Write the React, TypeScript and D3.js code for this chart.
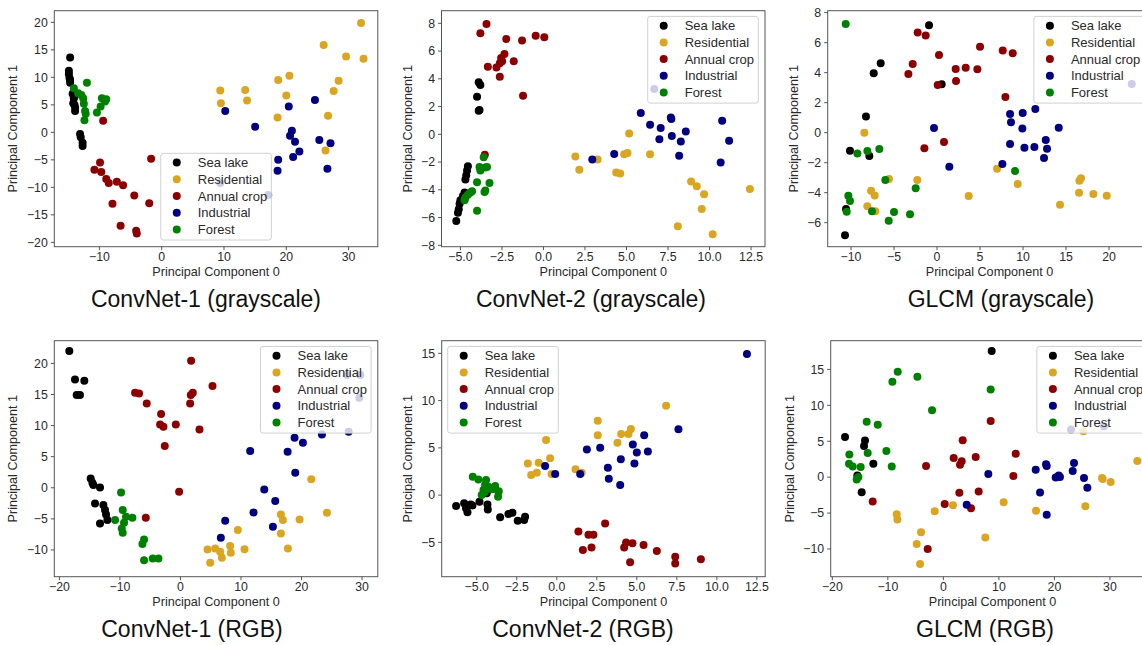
import React from 'react'
import * as d3 from 'd3'

type Pt = [number, number]

const classNames = ['Sea lake', 'Residential', 'Annual crop', 'Industrial', 'Forest']
const classColors = ['black', 'goldenrod', 'darkred', 'navy', 'green']

// ConvNet-1 (grayscale)
const c1gSea: Pt[] = [[-14.7,13.6],[-14.9,11.2],[-14.9,10.6],[-14.8,9.9],[-14.7,9.5],[-14.7,9.0],[-14.3,7.0],[-14.1,6.4],[-14.1,6.2],[-14.2,5.3],[-14.0,5.0],[-13.9,4.5],[-13.9,3.9],[-13.1,-0.3],[-13.0,-0.9],[-12.7,-1.9],[-12.7,-2.5]]
const c1gRes: Pt[] = [[32.0,19.9],[26.0,15.9],[29.6,13.8],[32.4,13.4],[20.5,10.3],[18.7,9.5],[28.4,9.4],[27.6,7.5],[20.0,6.7],[9.4,7.6],[13.4,7.7],[9.5,5.3],[13.7,5.8],[18.6,2.7],[26.7,3.0],[26.3,-3.3]]
const c1gCrop: Pt[] = [[-9.4,2.1],[-1.7,-4.8],[-9.9,-5.5],[-10.8,-6.8],[-9.7,-7.2],[-8.9,-8.5],[-8.5,-9.2],[-7.2,-9.0],[-6.2,-9.6],[-7.9,-13.0],[-4.4,-11.5],[-2.0,-12.9],[-6.6,-17.0],[-4.1,-17.9],[-4.0,-18.4]]
const c1gInd: Pt[] = [[10.2,3.9],[15.0,1.0],[24.6,5.9],[20.4,4.7],[20.9,0.3],[20.6,-0.6],[21.4,-1.7],[22.1,-3.5],[21.1,-4.5],[18.7,-5.0],[18.6,-7.0],[25.3,-1.4],[27.1,-2.0],[26.6,-6.6],[9.4,-9.2],[17.1,-11.4]]
const c1gFor: Pt[] = [[-14.1,8.0],[-13.4,7.1],[-12.9,6.8],[-12.6,6.2],[-12.0,9.0],[-12.5,5.2],[-12.3,3.9],[-12.2,3.4],[-12.4,2.2],[-10.4,3.6],[-9.8,4.7],[-9.6,6.2],[-8.9,6.0],[-9.1,5.6]]

// ConvNet-2 (grayscale)
const c2gSea: Pt[] = [[-3.9,3.75],[-3.8,3.55],[-4.0,2.7],[-3.9,1.7],[-3.85,1.75],[-4.55,-2.3],[-4.6,-2.6],[-4.65,-2.95],[-4.7,-3.25],[-4.75,-4.2],[-4.85,-4.45],[-5.0,-4.75],[-5.05,-5.0],[-5.1,-5.4],[-5.15,-5.65],[-5.25,-6.25]]
const c2gRes: Pt[] = [[1.92,-1.6],[2.16,-2.56],[3.26,-1.82],[4.38,-2.75],[4.62,-2.83],[4.86,-1.43],[5.06,-1.34],[5.16,0.06],[6.42,-1.43],[8.89,-3.4],[9.23,-3.74],[9.67,-4.32],[9.53,-5.38],[12.43,-3.95],[8.09,-6.63],[10.19,-7.2]]
const c2gCrop: Pt[] = [[-3.43,7.95],[-3.8,7.28],[-2.24,6.87],[-1.29,6.77],[-0.47,7.11],[0.05,6.99],[-2.35,5.79],[-2.55,5.5],[-2.49,5.26],[-2.63,5.12],[-1.79,5.26],[-3.35,4.87],[-2.83,4.82],[-2.63,4.15],[-1.23,2.78],[-3.53,-1.48]]
const c2gInd: Pt[] = [[2.94,-1.82],[4.26,-1.41],[5.86,1.53],[6.42,0.69],[7.06,0.45],[7.67,1.22],[7.7,1.1],[6.98,-0.35],[7.73,-0.13],[8.27,-0.52],[8.17,-1.55],[8.57,0.2],[10.76,0.97],[11.18,-0.47],[10.67,-2.03],[6.67,3.26]]
const c2gFor: Pt[] = [[-3.6,-1.65],[-3.85,-2.35],[-3.8,-2.6],[-3.4,-2.35],[-3.5,-2.4],[-4.0,-3.45],[-3.25,-3.5],[-3.5,-4.05],[-3.55,-4.15],[-4.3,-4.1],[-4.4,-4.2],[-4.55,-4.35],[-4.7,-4.55],[-4.75,-4.75],[-4.0,-5.5]]

// GLCM (grayscale)
const glgSea: Pt[] = [[-0.93,7.16],[-6.55,4.62],[-7.36,3.96],[0.54,3.22],[-8.26,1.07],[-10.12,-1.2],[-7.87,-1.56],[-10.58,-5.09],[-10.7,-6.84]]
const glgRes: Pt[] = [[-8.45,0.0],[-7.67,-3.87],[-7.25,-4.18],[-8.1,-4.91],[-7.17,-5.24],[-5.58,-3.09],[-2.29,-3.16],[3.68,-4.22],[6.98,-2.4],[9.38,-3.42],[14.3,-4.8],[16.51,-4.0],[16.74,-3.04],[16.55,-3.2],[18.18,-4.09],[19.73,-4.2]]
const glgCrop: Pt[] = [[-2.25,6.67],[-1.32,6.47],[5.0,5.73],[0.23,5.18],[-2.83,4.58],[-3.33,3.91],[2.17,4.24],[3.33,4.33],[4.69,4.22],[7.64,5.47],[8.8,5.29],[0.08,3.18],[2.21,3.44],[7.95,2.38],[0.81,-0.62],[-1.47,-1.04]]
const glgInd: Pt[] = [[-0.35,0.31],[1.43,-2.27],[7.6,-2.09],[8.49,1.24],[8.6,0.69],[9.96,1.31],[9.92,0.27],[11.43,1.58],[14.15,0.33],[8.49,-0.76],[10.16,-1.0],[11.32,-0.96],[12.64,-0.49],[12.79,-1.07],[12.44,-1.69],[22.64,3.24]]
const glgFor: Pt[] = [[-10.62,7.24],[-9.26,-1.38],[-8.1,-1.22],[-6.71,-1.09],[-6.01,-3.16],[-2.48,-3.71],[-10.31,-4.2],[-10.12,-4.56],[-10.5,-5.27],[-7.56,-5.24],[-5.0,-5.29],[-5.62,-5.87],[-3.14,-5.44],[9.07,-2.56]]

// ConvNet-1 (RGB)
const c1rSea: Pt[] = [[-18.36,21.98],[-17.42,17.43],[-15.88,17.21],[-17.14,14.91],[-16.6,14.91],[-14.83,1.5],[-14.55,0.8],[-14.39,0.43],[-13.29,0.05],[-14.11,-2.52],[-12.73,-2.79],[-12.46,-3.59],[-12.29,-4.29],[-12.07,-5.2],[-13.29,-5.74]]
const c1rRes: Pt[] = [[21.61,1.39],[24.2,-4.02],[16.59,-4.29],[16.92,-5.2],[19.68,-5.09],[16.59,-7.35],[17.75,-9.76],[9.48,-6.81],[4.47,-9.92],[5.73,-9.76],[6.56,-10.29],[6.84,-11.26],[8.21,-9.38],[8.32,-10.46],[10.58,-9.87],[4.91,-12.06]]
const c1rCrop: Pt[] = [[1.76,20.43],[5.29,16.35],[-7.5,15.28],[-6.84,15.17],[2.04,15.28],[1.71,14.91],[-5.57,13.57],[1.6,13.57],[-3.2,11.85],[-3.36,10.19],[-2.81,9.81],[-0.77,10.19],[3.14,9.38],[-2.59,6.7],[-0.22,-0.64],[-5.73,-4.83]]
const c1rInd: Pt[] = [[11.52,5.9],[17.7,5.79],[18.85,8.04],[20.23,7.24],[23.37,8.58],[18.96,2.41],[13.84,-0.27],[15.66,-2.14],[12.07,-3.97],[7.39,-5.31],[6.67,-8.04],[15.27,-6.27],[27.51,18.12],[29.71,18.12],[29.55,14.48],[27.78,9.01]]
const c1rFor: Pt[] = [[-9.81,-0.75],[-10.8,-5.2],[-9.54,-3.59],[-8.99,-4.66],[-7.94,-4.83],[-9.32,-5.63],[-9.7,-6.54],[-9.54,-7.24],[-6.01,-8.31],[-6.28,-9.06],[-6.01,-11.64],[-4.58,-11.37],[-3.64,-11.37]]

// ConvNet-2 (RGB)
const c2rSea: Pt[] = [[-6.29,-1.16],[-5.79,-0.87],[-5.67,-1.4],[-5.58,-1.82],[-5.38,-0.98],[-5.27,-1.09],[-4.83,-0.7],[-4.33,-0.98],[-4.31,-1.51],[-4.38,0.19],[-3.54,-2.35],[-3.02,-2.0],[-2.77,-1.86],[-2.44,-2.7],[-2.04,-2.63],[-1.98,-2.28]]
const c2rRes: Pt[] = [[-1.81,3.36],[-1.6,2.13],[-1.25,2.37],[-1.13,3.43],[-0.67,5.83],[-0.42,3.9],[-0.33,2.23],[1.17,2.73],[1.56,2.37],[2.56,7.88],[2.56,6.33],[3.79,5.55],[4.02,6.47],[4.48,6.47],[4.63,7.0],[6.83,9.47]]
const c2rCrop: Pt[] = [[-3.65,0.36],[1.35,-3.86],[1.98,-4.2],[2.29,-4.2],[3.02,-2.99],[1.63,-5.81],[2.17,-5.53],[4.33,-5.0],[4.21,-5.53],[4.73,-5.1],[5.42,-5.27],[4.58,-7.11],[6.25,-5.92],[7.4,-6.52],[7.4,-7.23],[9.0,-6.79]]
const c2rInd: Pt[] = [[-0.73,3.09],[-0.1,2.23],[1.46,2.23],[1.88,4.84],[2.71,5.01],[3.19,2.9],[3.25,1.73],[4.0,3.81],[3.96,1.06],[4.75,5.37],[5.0,4.52],[4.85,3.36],[5.46,6.33],[5.69,4.63],[7.6,6.96],[11.88,14.94]]
const c2rFor: Pt[] = [[-5.25,1.95],[-4.9,1.66],[-4.42,1.59],[-4.48,1.06],[-4.27,0.89],[-3.85,0.96],[-4.58,0.54],[-4.69,0.01],[-3.63,0.4],[-3.67,-0.17],[-4.06,0.61],[-4.5,0.3]]

// GLCM (RGB)
const glrSea: Pt[] = [[8.7,17.56],[-17.71,5.6],[-14.11,5.12],[-14.29,4.34],[-12.61,1.87],[-15.49,0.24],[-14.71,-2.09]]
const glrRes: Pt[] = [[-8.4,-5.18],[-8.28,-5.88],[-4.02,-7.67],[-4.8,-9.32],[-4.2,-12.1],[-1.56,-4.74],[1.74,-3.9],[7.56,-8.39],[10.86,-3.49],[16.69,-4.69],[25.57,-4.04],[28.69,-0.27],[30.13,-0.69],[28.57,-0.13],[34.93,2.24],[25.21,6.39]]
const glrCrop: Pt[] = [[8.52,7.82],[3.48,5.13],[1.86,2.66],[3.3,2.2],[3.0,1.74],[5.82,2.8],[13.03,3.27],[-3.12,1.55],[12.61,0.15],[2.88,-2.18],[6.36,-1.99],[0.24,-3.73],[4.98,-4.34],[-2.82,-9.99],[-12.73,-3.39]]
const glrInd: Pt[] = [[8.1,0.43],[4.2,-3.83],[16.63,1.03],[18.49,1.78],[18.61,1.54],[17.41,-2.14],[18.61,-5.25],[20.23,-0.04],[20.77,0.24],[21.0,0.01],[23.29,0.85],[23.53,1.96],[25.33,-0.13],[25.93,-1.48],[22.99,6.62],[28.93,7.08]]
const glrFor: Pt[] = [[-8.22,14.68],[-9.18,13.28],[-4.68,13.98],[8.52,12.2],[-2.04,9.3],[-13.81,7.73],[-11.82,7.31],[-10.26,3.64],[-13.63,3.36],[-16.93,3.17],[-16.99,1.87],[-16.33,1.5],[-14.89,1.41],[-9.3,1.5],[-15.31,0.01],[-15.61,-0.31]]

const ticksAB = [-10, 0, 10, 20, 30]
const ticksFiveTo20 = [-20, -15, -10, -5, 0, 5, 10, 15, 20]
const ticksHalf = [-5, -2.5, 0, 2.5, 5, 7.5, 10, 12.5]
const ticksEvenTo8 = [-8, -6, -4, -2, 0, 2, 4, 6, 8]
const ticksGlcmX = [-10, -5, 0, 5, 10, 15, 20]
const ticksGlcmY = [-6, -4, -2, 0, 2, 4, 6, 8]
const ticksWide = [-20, -10, 0, 10, 20, 30]
const ticksRgb1Y = [-10, -5, 0, 5, 10, 15, 20]
const ticksRgb2Y = [-5, 0, 5, 10, 15]
const ticksRgb3Y = [-10, -5, 0, 5, 10, 15]

const panels = [
  { title: 'ConvNet-1 (grayscale)', series: [c1gSea, c1gRes, c1gCrop, c1gInd, c1gFor], left: 54.3, top: 10.7, titleX: 206, xDom: [-17.24, 34.69], yDom: [-20.79, 22.12], xTicks: ticksAB, yTicks: ticksFiveTo20, xFmt: 'd', yLabGap: 37, legend: 'lc' },
  { title: 'ConvNet-2 (grayscale)', series: [c2gSea, c2gRes, c2gCrop, c2gInd, c2gFor], left: 441.5, top: 10.7, titleX: 591, xDom: [-6.14, 13.34], yDom: [-8.1, 8.91], xTicks: ticksHalf, yTicks: ticksEvenTo8, xFmt: '.1f', yLabGap: 30, legend: 'ur' },
  { title: 'GLCM (grayscale)', series: [glgSea, glgRes, glgCrop, glgInd, glgFor], left: 827.7, top: 10.7, titleX: 1001, xDom: [-12.71, 24.9], yDom: [-7.6, 8.13], xTicks: ticksGlcmX, yTicks: ticksGlcmY, xFmt: 'd', yLabGap: 30, legend: 'ur' },
  { title: 'ConvNet-1 (RGB)', series: [c1rSea, c1rRes, c1rCrop, c1rInd, c1rFor], left: 54.3, top: 340.7, titleX: 192, xDom: [-20.84, 32.6], yDom: [-14.3, 23.65], xTicks: ticksWide, yTicks: ticksRgb1Y, xFmt: 'd', yLabGap: 37, legend: 'ur' },
  { title: 'ConvNet-2 (RGB)', series: [c2rSea, c2rRes, c2rCrop, c2rInd, c2rFor], left: 441.7, top: 340.7, titleX: 583, xDom: [-7.19, 13.02], yDom: [-8.63, 16.34], xTicks: ticksHalf, yTicks: ticksRgb2Y, xFmt: '.1f', yLabGap: 30, legend: 'ul' },
  { title: 'GLCM (RGB)', series: [glrSea, glrRes, glrCrop, glrInd, glrFor], left: 830.7, top: 340.7, titleX: 985, xDom: [-20.29, 37.97], yDom: [-13.86, 19.0], xTicks: ticksWide, yTicks: ticksRgb3Y, xFmt: 'd', yLabGap: 37, legend: 'ur' },
]

const W = 323.5
const H = 236
const textCol = '#2a2a2a'
const font = 'Liberation Sans, Arial, sans-serif'

const Panel = ({ p }: { p: (typeof panels)[number] }) => {
  const x = d3.scaleLinear().domain(p.xDom).range([0, W])
  const y = d3.scaleLinear().domain(p.yDom).range([H, 0])
  const fx = d3.format(p.xFmt)
  const fy = d3.format('d')

  const legW = 110.6
  const legH = 86.7
  let lx = W - 6.7 - legW
  let ly = 5.7
  if (p.legend === 'ul') lx = 6
  if (p.legend === 'lc') {
    lx = (W - legW) / 2
    ly = H - 6.7 - legH
  }

  return (
    <g transform={`translate(${p.left},${p.top})`} fontFamily={font}>
      {p.series.map((pts, i) => (
        <g key={i} fill={classColors[i]}>
          {pts.map((d, j) => (
            <circle key={j} cx={x(d[0])} cy={y(d[1])} r={4} />
          ))}
        </g>
      ))}
      <rect x={0} y={0} width={W} height={H} fill="none" stroke="#555" strokeWidth={1} />
      {p.xTicks.map((t) => (
        <g key={t} transform={`translate(${x(t)},${H})`}>
          <line y2={3.5} stroke="#555" />
          <text y={14.2} textAnchor="middle" fontSize={12.3} fill={textCol}>{fx(t)}</text>
        </g>
      ))}
      {p.yTicks.map((t) => (
        <g key={t} transform={`translate(0,${y(t)})`}>
          <line x2={-3.5} stroke="#555" />
          <text x={-6.5} dy="0.35em" textAnchor="end" fontSize={12.3} fill={textCol}>{fy(t)}</text>
        </g>
      ))}
      <text x={W / 2} y={H + 29.2} textAnchor="middle" fontSize={12.6} fill={textCol}>Principal Component 0</text>
      <text transform={`translate(${-p.yLabGap},${H / 2}) rotate(-90)`} textAnchor="middle" fontSize={12.6} fill={textCol}>Principal Component 1</text>
      <g transform={`translate(${lx},${ly})`}>
        <rect width={legW} height={legH} rx={2.5} fill="white" fillOpacity={0.8} stroke="#d0d0d0" />
        {classNames.map((c, i) => (
          <g key={c} transform={`translate(0,${9.3 + i * 16.7})`}>
            <circle cx={16} cy={0} r={4} fill={classColors[i]} />
            <text x={37} dy="0.36em" fontSize={13} fill={textCol}>{c}</text>
          </g>
        ))}
      </g>
      <text x={p.titleX - p.left} y={H + 60.5} textAnchor="middle" fontSize={23} fill="#111">{p.title}</text>
    </g>
  )
}

export default function App() {
  return (
    <svg width={1142} height={645} style={{ position: 'absolute', left: 0, top: 0, background: 'white' }}>
      <rect width={1142} height={645} fill="white" />
      {panels.map((p) => (
        <Panel key={p.title} p={p} />
      ))}
    </svg>
  )
}
